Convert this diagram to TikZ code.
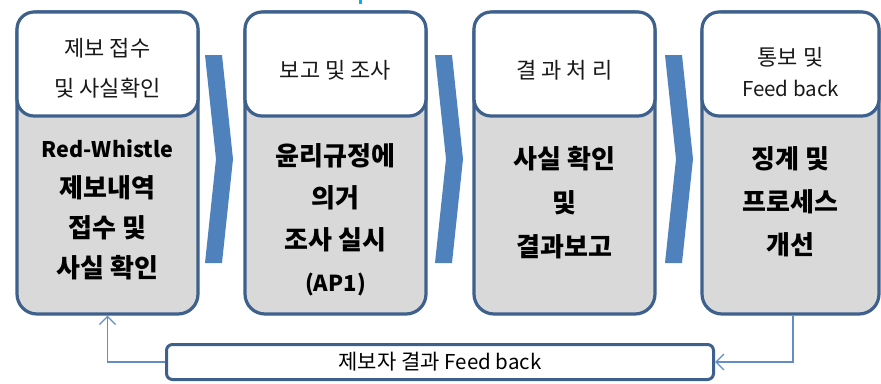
\documentclass[tikz,border=0pt]{standalone}
\usepackage{fontspec}
\setmainfont{Noto Sans CJK KR}
\usetikzlibrary{arrows.meta}
\definecolor{bord}{RGB}{62,96,140}
\definecolor{chevcol}{RGB}{79,129,189}
\definecolor{conncol}{RGB}{100,140,200}
\definecolor{gfill}{RGB}{217,217,217}
\definecolor{tickcol}{RGB}{0,176,240}
\begin{document}
\begin{tikzpicture}[x=1pt,y=-1pt,
  outerbox/.style={draw=bord, line width=3.2pt, fill=gfill, rounded corners=20pt,
    minimum height=302pt, inner sep=0pt},
  innerbox/.style={draw=bord, line width=3.2pt, fill=white, rounded corners=17pt,
    minimum height=104pt, inner sep=0pt},
  toplab/.style={align=center, text=black!90, inner sep=0pt, font=\fontsize{22}{40}\selectfont},
  botlab/.style={align=center, text=black, inner sep=0pt, font=\bfseries\fontsize{26}{43}\selectfont},
  fbbox/.style={draw=bord, line width=3pt, fill=white, rounded corners=6pt,
    minimum width=547pt, minimum height=35pt, inner sep=0pt, font=\fontsize{21}{22}\selectfont},
  conn/.style={draw=conncol, line width=1.3pt, -{Straight Barb[length=8pt,width=16pt,line width=1.3pt]}}
]
\useasboundingbox (0,0) rectangle (881,383);
\fill[tickcol] (359,0) rectangle (362,4);

% chevrons
\foreach \L in {205,435,665}{
  \fill[chevcol] (\L,55) -- (\L+17,55) -- (\L+28,159) -- (\L+17,263) -- (\L,263) -- (\L+11,159) -- cycle;
}

% boxes
\node[outerbox, minimum width=181pt] (b1) at (107.5,163) {};
\node[innerbox, minimum width=181pt] (t1) at (107.5,64) {};
\node[outerbox, minimum width=181pt] (b2) at (335.5,163) {};
\node[innerbox, minimum width=181pt] (t2) at (335.5,64) {};
\node[outerbox, minimum width=181pt] (b3) at (564.5,163) {};
\node[innerbox, minimum width=181pt] (t3) at (564.5,64) {};
\node[outerbox, minimum width=177pt] (b4) at (790.5,163) {};
\node[innerbox, minimum width=177pt] (t4) at (790.5,64) {};

% top labels
\node[toplab] (l1) at (107.5,68) {제보 접수\\및 사실확인};
\node[toplab] (l2) at (335.5,70) {보고 및 조사};
\node[toplab] (l3) at (564.5,70) {결 과 처 리};
\node[toplab, font=\fontsize{22}{31}\selectfont] (l4) at (790.5,72)
  {통보 및\\{\fontsize{20.5}{31}\selectfont Feed back}};

% bottom labels
\node[botlab, font=\bfseries\fontsize{26}{40}\selectfont] (m1) at (107.5,210)
  {{\fontsize{21.5}{40}\selectfont Red-Whistle}\\제보내역\\접수 및\\사실 확인};
\node[botlab, font=\bfseries\fontsize{26}{42}\selectfont] (m2) at (335.5,220)
  {윤리규정에\\의거\\조사 실시\\{\fontsize{22}{40}\selectfont (AP1)}};
\node[botlab, font=\bfseries\fontsize{26}{44}\selectfont] (m3) at (564.5,203)
  {사실 확인\\및\\결과보고};
\node[botlab] (m4) at (790.5,202)
  {징계 및\\프로세스\\개선};

% feedback bar
\node[fbbox] (fb) at (440,362) {제보자 결과 {\fontsize{20.5}{22}\selectfont Feed back}};

\draw[conn] (fb.west) -| (b1.south);
\draw[conn] ([xshift=2.5pt]b4.south) |- (fb.east);
\end{tikzpicture}
\end{document}
